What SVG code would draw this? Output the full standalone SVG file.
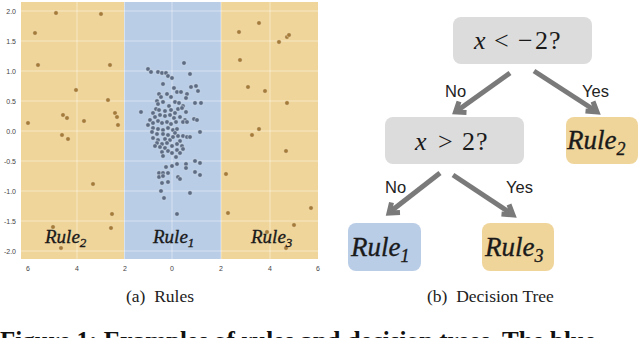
<svg xmlns="http://www.w3.org/2000/svg" width="640" height="338" viewBox="0 0 640 338">
<style>
.grid{stroke:#ffffff;stroke-opacity:0.55;stroke-width:0.8}
.tick{font-family:"Liberation Sans",Arial,sans-serif;font-size:7px;fill:#444}
.od{fill:#a47b3a;stroke:#f6e3b8;stroke-width:0.5}
.bd{fill:#5d6c84;stroke:#dfe8f3;stroke-width:0.5}
.rule{font-family:"Liberation Serif","Times New Roman",serif;font-style:italic;fill:#1a1a1a;stroke:#1a1a1a;stroke-width:0.35}
.math{font-family:"Liberation Serif","Times New Roman",serif;font-size:26px;fill:#1a1a1a}
.cap{font-family:"Liberation Serif","Times New Roman",serif;font-size:17.5px;fill:#222}
.lbl{font-family:"Liberation Sans",Arial,sans-serif;font-size:16.5px;fill:#222}
.arr{stroke:#7a7a7a;stroke-width:5;fill:none;stroke-linecap:butt;stroke-linejoin:miter}
.gray{fill:#dcdcdc}
.orange{fill:#f0d59b}
.blue{fill:#b9cde7}
</style>

<g id="plot">
  <rect x="21" y="2" width="103" height="257" class="orange"/>
  <rect x="124" y="2" width="97" height="257" class="blue"/>
  <rect x="221" y="2" width="97" height="257" class="orange"/>
  <g id="gridlines">
    <line class="grid" x1="77" y1="2" x2="77" y2="259"/>
    <line class="grid" x1="124.5" y1="2" x2="124.5" y2="259"/>
    <line class="grid" x1="172" y1="2" x2="172" y2="259"/>
    <line class="grid" x1="221" y1="2" x2="221" y2="259"/>
    <line class="grid" x1="270" y1="2" x2="270" y2="259"/>
    <line class="grid" x1="21" y1="11" x2="318" y2="11"/>
    <line class="grid" x1="21" y1="41" x2="318" y2="41"/>
    <line class="grid" x1="21" y1="71" x2="318" y2="71"/>
    <line class="grid" x1="21" y1="101" x2="318" y2="101"/>
    <line class="grid" x1="21" y1="131" x2="318" y2="131"/>
    <line class="grid" x1="21" y1="161" x2="318" y2="161"/>
    <line class="grid" x1="21" y1="191" x2="318" y2="191"/>
    <line class="grid" x1="21" y1="221" x2="318" y2="221"/>
    <line class="grid" x1="21" y1="251" x2="318" y2="251"/>
  </g>
  <g id="yticks" text-anchor="end">
    <text class="tick" x="16" y="13.5">2.0</text>
    <text class="tick" x="16" y="43.5">1.5</text>
    <text class="tick" x="16" y="73.5">1.0</text>
    <text class="tick" x="16" y="103.5">0.5</text>
    <text class="tick" x="16" y="133.5">0.0</text>
    <text class="tick" x="16" y="163.5">-0.5</text>
    <text class="tick" x="16" y="193.5">-1.0</text>
    <text class="tick" x="16" y="223.5">-1.5</text>
    <text class="tick" x="16" y="253.5">-2.0</text>
  </g>
  <g id="xticks" text-anchor="middle">
    <text class="tick" x="28" y="271">6</text>
    <text class="tick" x="77" y="271">4</text>
    <text class="tick" x="125" y="271">2</text>
    <text class="tick" x="172" y="271">0</text>
    <text class="tick" x="221" y="271">2</text>
    <text class="tick" x="270" y="271">4</text>
    <text class="tick" x="318" y="271">6</text>
  </g>
  <g id="orange-points">
    <circle class="od" cx="56" cy="13" r="2.3"/>
    <circle class="od" cx="101" cy="14" r="2.3"/>
    <circle class="od" cx="35" cy="33" r="2.3"/>
    <circle class="od" cx="38" cy="65" r="2.3"/>
    <circle class="od" cx="110" cy="65" r="2.3"/>
    <circle class="od" cx="76" cy="90" r="2.3"/>
    <circle class="od" cx="108" cy="100" r="2.3"/>
    <circle class="od" cx="63" cy="115" r="2.3"/>
    <circle class="od" cx="67" cy="118" r="2.3"/>
    <circle class="od" cx="115" cy="113" r="2.3"/>
    <circle class="od" cx="117" cy="117" r="2.3"/>
    <circle class="od" cx="84" cy="121" r="2.3"/>
    <circle class="od" cx="28" cy="123" r="2.3"/>
    <circle class="od" cx="118" cy="125" r="2.3"/>
    <circle class="od" cx="62" cy="135" r="2.3"/>
    <circle class="od" cx="68" cy="139" r="2.3"/>
    <circle class="od" cx="93" cy="184" r="2.3"/>
    <circle class="od" cx="112" cy="214" r="2.3"/>
    <circle class="od" cx="111" cy="228" r="2.3"/>
    <circle class="od" cx="53" cy="227" r="2.3"/>
    <circle class="od" cx="61" cy="248" r="2.3"/>
    <circle class="od" cx="259" cy="23" r="2.3"/>
    <circle class="od" cx="239" cy="32" r="2.3"/>
    <circle class="od" cx="279" cy="42" r="2.3"/>
    <circle class="od" cx="287" cy="37" r="2.3"/>
    <circle class="od" cx="289" cy="35" r="2.3"/>
    <circle class="od" cx="240" cy="60" r="2.3"/>
    <circle class="od" cx="248" cy="87" r="2.3"/>
    <circle class="od" cx="265" cy="91" r="2.3"/>
    <circle class="od" cx="287" cy="103" r="2.3"/>
    <circle class="od" cx="259" cy="129" r="2.3"/>
    <circle class="od" cx="252" cy="135" r="2.3"/>
    <circle class="od" cx="286" cy="151" r="2.3"/>
    <circle class="od" cx="226" cy="174" r="2.3"/>
    <circle class="od" cx="228" cy="213" r="2.3"/>
    <circle class="od" cx="311" cy="208" r="2.3"/>
    <circle class="od" cx="294" cy="225" r="2.3"/>
    <circle class="od" cx="267" cy="232" r="2.3"/>
    <circle class="od" cx="286" cy="248" r="2.3"/>
  </g>
  <g id="blue-points">
    <circle class="bd" cx="148" cy="69" r="2.3"/>
    <circle class="bd" cx="151" cy="72" r="2.3"/>
    <circle class="bd" cx="158" cy="72" r="2.3"/>
    <circle class="bd" cx="162" cy="73" r="2.3"/>
    <circle class="bd" cx="166" cy="73" r="2.3"/>
    <circle class="bd" cx="168" cy="76" r="2.3"/>
    <circle class="bd" cx="172" cy="78" r="2.3"/>
    <circle class="bd" cx="184" cy="63" r="2.3"/>
    <circle class="bd" cx="190" cy="74" r="2.3"/>
    <circle class="bd" cx="163" cy="84" r="2.3"/>
    <circle class="bd" cx="174" cy="88" r="2.3"/>
    <circle class="bd" cx="177" cy="92" r="2.3"/>
    <circle class="bd" cx="181" cy="92" r="2.3"/>
    <circle class="bd" cx="191" cy="87" r="2.3"/>
    <circle class="bd" cx="196" cy="86" r="2.3"/>
    <circle class="bd" cx="198" cy="91" r="2.3"/>
    <circle class="bd" cx="159" cy="94" r="2.3"/>
    <circle class="bd" cx="161" cy="97" r="2.3"/>
    <circle class="bd" cx="167" cy="94" r="2.3"/>
    <circle class="bd" cx="171" cy="97" r="2.3"/>
    <circle class="bd" cx="187" cy="94" r="2.3"/>
    <circle class="bd" cx="186" cy="98" r="2.3"/>
    <circle class="bd" cx="157" cy="101" r="2.3"/>
    <circle class="bd" cx="158" cy="104" r="2.3"/>
    <circle class="bd" cx="163" cy="102" r="2.3"/>
    <circle class="bd" cx="169" cy="106" r="2.3"/>
    <circle class="bd" cx="175" cy="102" r="2.3"/>
    <circle class="bd" cx="179" cy="103" r="2.3"/>
    <circle class="bd" cx="183" cy="106" r="2.3"/>
    <circle class="bd" cx="195" cy="103" r="2.3"/>
    <circle class="bd" cx="201" cy="103" r="2.3"/>
    <circle class="bd" cx="141" cy="112" r="2.3"/>
    <circle class="bd" cx="156" cy="109" r="2.3"/>
    <circle class="bd" cx="159" cy="110" r="2.3"/>
    <circle class="bd" cx="165" cy="111" r="2.3"/>
    <circle class="bd" cx="171" cy="110" r="2.3"/>
    <circle class="bd" cx="175" cy="113" r="2.3"/>
    <circle class="bd" cx="178" cy="109" r="2.3"/>
    <circle class="bd" cx="182" cy="108" r="2.3"/>
    <circle class="bd" cx="186" cy="112" r="2.3"/>
    <circle class="bd" cx="153" cy="113" r="2.3"/>
    <circle class="bd" cx="155" cy="117" r="2.3"/>
    <circle class="bd" cx="160" cy="115" r="2.3"/>
    <circle class="bd" cx="165" cy="116" r="2.3"/>
    <circle class="bd" cx="170" cy="115" r="2.3"/>
    <circle class="bd" cx="174" cy="118" r="2.3"/>
    <circle class="bd" cx="180" cy="117" r="2.3"/>
    <circle class="bd" cx="185" cy="120" r="2.3"/>
    <circle class="bd" cx="194" cy="119" r="2.3"/>
    <circle class="bd" cx="197" cy="120" r="2.3"/>
    <circle class="bd" cx="150" cy="120" r="2.3"/>
    <circle class="bd" cx="153" cy="123" r="2.3"/>
    <circle class="bd" cx="158" cy="121" r="2.3"/>
    <circle class="bd" cx="162" cy="123" r="2.3"/>
    <circle class="bd" cx="167" cy="122" r="2.3"/>
    <circle class="bd" cx="171" cy="124" r="2.3"/>
    <circle class="bd" cx="176" cy="122" r="2.3"/>
    <circle class="bd" cx="183" cy="122" r="2.3"/>
    <circle class="bd" cx="187" cy="122" r="2.3"/>
    <circle class="bd" cx="148" cy="125" r="2.3"/>
    <circle class="bd" cx="153" cy="128" r="2.3"/>
    <circle class="bd" cx="158" cy="129" r="2.3"/>
    <circle class="bd" cx="163" cy="130" r="2.3"/>
    <circle class="bd" cx="168" cy="128" r="2.3"/>
    <circle class="bd" cx="173" cy="130" r="2.3"/>
    <circle class="bd" cx="177" cy="129" r="2.3"/>
    <circle class="bd" cx="152" cy="132" r="2.3"/>
    <circle class="bd" cx="200" cy="132" r="2.3"/>
    <circle class="bd" cx="157" cy="134" r="2.3"/>
    <circle class="bd" cx="163" cy="134" r="2.3"/>
    <circle class="bd" cx="168" cy="135" r="2.3"/>
    <circle class="bd" cx="175" cy="133" r="2.3"/>
    <circle class="bd" cx="178" cy="136" r="2.3"/>
    <circle class="bd" cx="183" cy="136" r="2.3"/>
    <circle class="bd" cx="187" cy="137" r="2.3"/>
    <circle class="bd" cx="190" cy="137" r="2.3"/>
    <circle class="bd" cx="153" cy="138" r="2.3"/>
    <circle class="bd" cx="158" cy="140" r="2.3"/>
    <circle class="bd" cx="165" cy="139" r="2.3"/>
    <circle class="bd" cx="170" cy="140" r="2.3"/>
    <circle class="bd" cx="173" cy="137" r="2.3"/>
    <circle class="bd" cx="180" cy="141" r="2.3"/>
    <circle class="bd" cx="157" cy="143" r="2.3"/>
    <circle class="bd" cx="162" cy="144" r="2.3"/>
    <circle class="bd" cx="167" cy="143" r="2.3"/>
    <circle class="bd" cx="172" cy="146" r="2.3"/>
    <circle class="bd" cx="177" cy="144" r="2.3"/>
    <circle class="bd" cx="182" cy="146" r="2.3"/>
    <circle class="bd" cx="155" cy="146" r="2.3"/>
    <circle class="bd" cx="160" cy="147" r="2.3"/>
    <circle class="bd" cx="165" cy="148" r="2.3"/>
    <circle class="bd" cx="183" cy="149" r="2.3"/>
    <circle class="bd" cx="162" cy="152" r="2.3"/>
    <circle class="bd" cx="168" cy="151" r="2.3"/>
    <circle class="bd" cx="172" cy="153" r="2.3"/>
    <circle class="bd" cx="177" cy="150" r="2.3"/>
    <circle class="bd" cx="180" cy="153" r="2.3"/>
    <circle class="bd" cx="163" cy="156" r="2.3"/>
    <circle class="bd" cx="176" cy="157" r="2.3"/>
    <circle class="bd" cx="166" cy="167" r="2.3"/>
    <circle class="bd" cx="172" cy="166" r="2.3"/>
    <circle class="bd" cx="177" cy="164" r="2.3"/>
    <circle class="bd" cx="186" cy="164" r="2.3"/>
    <circle class="bd" cx="186" cy="168" r="2.3"/>
    <circle class="bd" cx="195" cy="161" r="2.3"/>
    <circle class="bd" cx="200" cy="163" r="2.3"/>
    <circle class="bd" cx="159" cy="173" r="2.3"/>
    <circle class="bd" cx="163" cy="173" r="2.3"/>
    <circle class="bd" cx="168" cy="173" r="2.3"/>
    <circle class="bd" cx="159" cy="177" r="2.3"/>
    <circle class="bd" cx="163" cy="176" r="2.3"/>
    <circle class="bd" cx="178" cy="177" r="2.3"/>
    <circle class="bd" cx="180" cy="179" r="2.3"/>
    <circle class="bd" cx="195" cy="172" r="2.3"/>
    <circle class="bd" cx="200" cy="175" r="2.3"/>
    <circle class="bd" cx="162" cy="183" r="2.3"/>
    <circle class="bd" cx="168" cy="182" r="2.3"/>
    <circle class="bd" cx="161" cy="191" r="2.3"/>
    <circle class="bd" cx="164" cy="198" r="2.3"/>
    <circle class="bd" cx="190" cy="193" r="2.3"/>
    <circle class="bd" cx="177" cy="214" r="2.3"/>
  </g>
  <g id="plot-labels" font-size="19px">
    <text class="rule" x="45" y="243">Rule<tspan font-size="13px" dy="4">2</tspan></text>
    <text class="rule" x="153" y="243">Rule<tspan font-size="13px" dy="4">1</tspan></text>
    <text class="rule" x="251" y="243">Rule<tspan font-size="13px" dy="4">3</tspan></text>
  </g>
</g>

<g id="connectors">
  <g id="edge-root-no">
    <line class="arr" x1="510" y1="73" x2="457.5" y2="110.5"/>
    <polyline class="arr" points="459,101.5 455.5,112 466.5,112.5"/>
  </g>
  <g id="edge-root-yes">
    <line class="arr" x1="534" y1="71" x2="595" y2="110.5"/>
    <polyline class="arr" points="585.5,111 597,112 593,101.5"/>
  </g>
  <g id="edge-x2-no">
    <line class="arr" x1="440" y1="173" x2="390.5" y2="211.5"/>
    <polyline class="arr" points="391.5,202.5 389,213 400,212.5"/>
  </g>
  <g id="edge-x2-yes">
    <line class="arr" x1="453" y1="175" x2="511" y2="213.5"/>
    <polyline class="arr" points="501.5,214 513,215 509,204.5"/>
  </g>
  <text class="lbl" x="445" y="97">No</text>
  <text class="lbl" x="582" y="97">Yes</text>
  <text class="lbl" x="385" y="193">No</text>
  <text class="lbl" x="506" y="193">Yes</text>
</g>

<g id="node-root">
  <rect class="gray" x="453" y="17" width="139" height="47" rx="8"/>
  <text class="math" y="49"><tspan x="474" font-style="italic">x</tspan><tspan x="494">&lt;</tspan><tspan x="518">−</tspan><tspan x="535">2</tspan><tspan x="549">?</tspan></text>
</g>
<g id="node-x2">
  <rect class="gray" x="385" y="117" width="139" height="47" rx="8"/>
  <text class="math" y="150"><tspan x="415" font-style="italic">x</tspan><tspan x="438">&gt;</tspan><tspan x="462">2</tspan><tspan x="476">?</tspan></text>
</g>
<g id="node-rule2">
  <rect class="orange" x="566" y="117" width="72" height="47" rx="8"/>
  <text class="rule" x="567" y="149" font-size="27px">Rule<tspan font-size="18px" dy="6">2</tspan></text>
</g>
<g id="node-rule1">
  <rect class="blue" x="348" y="223" width="73" height="48" rx="8"/>
  <text class="rule" x="351" y="256" font-size="27px">Rule<tspan font-size="18px" dy="6">1</tspan></text>
</g>
<g id="node-rule3">
  <rect class="orange" x="482" y="223" width="72" height="48" rx="8"/>
  <text class="rule" x="485" y="256" font-size="27px">Rule<tspan font-size="18px" dy="6">3</tspan></text>
</g>

<g id="captions">
  <text class="cap" x="126" y="302" xml:space="preserve">(a)  Rules</text>
  <text class="cap" x="427" y="302" xml:space="preserve">(b)  Decision Tree</text>
  <text x="0" y="349" font-family="'Liberation Serif','Times New Roman',serif" font-weight="bold" font-size="25px" fill="#111">Figure 1: Examples of rules and decision trees. The blue</text>
</g>
</svg>
